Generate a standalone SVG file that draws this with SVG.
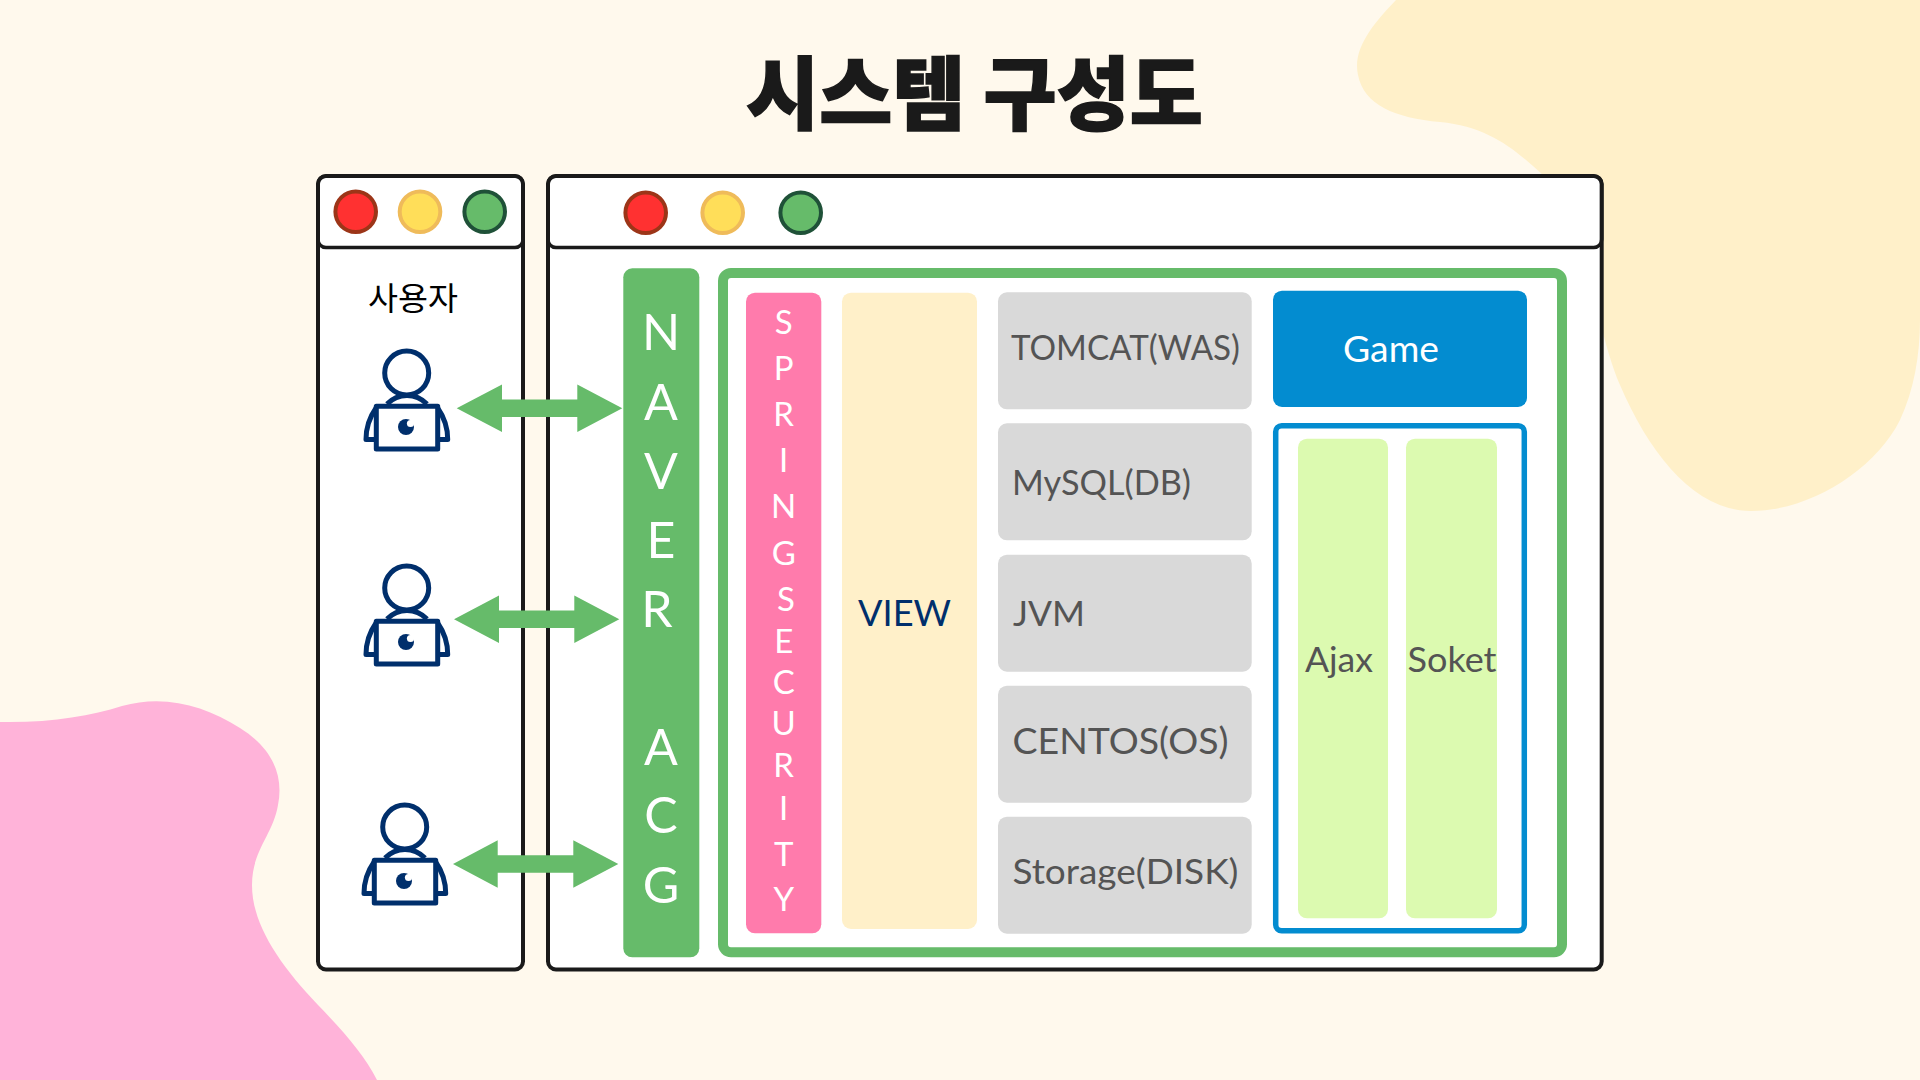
<svg xmlns="http://www.w3.org/2000/svg" xmlns:xlink="http://www.w3.org/1999/xlink" width="1920" height="1080" viewBox="0 0 1920 1080">
<style>
.win{fill:#fff;stroke:#1a1a1a;stroke-width:4}
.head{fill:none;stroke:#1a1a1a;stroke-width:3.5}
.r{fill:#ff3131;stroke:#9c3518;stroke-width:4}
.y{fill:#ffde59;stroke:#efbb5a;stroke-width:4}
.g{fill:#66bb6a;stroke:#1f5138;stroke-width:4}
.t{font-family:"Lato","Noto Sans",sans-serif}
.lg{font-size:34px;fill:#545454}
.nv{font-size:50px;fill:#fff;text-anchor:middle}
.sp{font-size:33px;fill:#fff;text-anchor:middle}
.box{fill:#d9d9d9}
.pl{fill:none;stroke:#002f6c;stroke-width:5;stroke-linejoin:round}
.arrow{fill:#66bb6a}
</style>
<defs>
<g id="person">
<circle class="pl" cx="406.7" cy="373" r="22"/>
<path class="pl" d="M387 404C393 398 399 395.500 407 395.500C415 395.500 421 398 427 404"/>
<path class="pl" d="M376 408C369 418 366 428 366 439.500L376 439.500"/>
<path class="pl" d="M437.700 408C444.700 418 447.700 428 447.700 439.500L437.700 439.500"/>
<rect x="376.300" y="406.300" width="61.400" height="42.700" fill="#fff" stroke="#002f6c" stroke-width="5" stroke-linejoin="round"/>
<circle cx="406" cy="427" r="8" fill="#002f6c"/>
<circle cx="410.500" cy="423.500" r="3.600" fill="#fff"/>
</g>
</defs>
<rect id="background" width="1920" height="1080" fill="#fff9ed"/>
<path id="blob-top" fill="#fff0c9" d="M1396 0C1375 22 1352 48 1358 75C1364 105 1395 118 1440 122C1490 127 1516 150 1546 178C1590 225 1592 320 1620 385C1650 455 1695 511 1751 511C1810 511 1875 470 1900 420C1914 390 1920 355 1920 320L1920 0Z"/>
<path id="blob-bottom" fill="#ffb3d9" d="M0 722C50 723 90 716 122 706C165 694 205 706 240 728C272 748 284 775 278 805C273 835 252 850 252 885C252 925 280 965 318 1005C345 1033 365 1056 377 1080L0 1080Z"/>
<text id="title" x="746" y="123" font-size="80" font-weight="900" fill="#1a1a1a" stroke="#1a1a1a" stroke-width="1.500" textLength="457" lengthAdjust="spacingAndGlyphs" style="font-family:'Noto Sans CJK KR',sans-serif">시스템 구성도</text>
<g id="window-left">
<rect class="win" x="318" y="176" width="205" height="793.500" rx="8"/>
<rect class="head" x="318" y="176" width="205" height="71.500" rx="8"/>
<circle class="r" cx="355.700" cy="211.700" r="20.300"/>
<circle class="y" cx="420" cy="211.700" r="20.300"/>
<circle class="g" cx="484.700" cy="211.700" r="20.300"/>
<text x="368" y="310" font-size="32" fill="#000" style="font-family:'Noto Sans CJK KR',sans-serif" textLength="90" lengthAdjust="spacingAndGlyphs">사용자</text>
</g>
<g id="window-right">
<rect class="win" x="548" y="176" width="1053.700" height="793.500" rx="8"/>
<rect class="head" x="548" y="176" width="1053.700" height="71.500" rx="8"/>
<circle class="r" cx="645.700" cy="212.700" r="20.300"/>
<circle class="y" cx="722.700" cy="212.700" r="20.300"/>
<circle class="g" cx="800.700" cy="212.700" r="20.300"/>
</g>
<g id="user-1"><use href="#person" xlink:href="#person"/></g>
<g id="user-2"><use href="#person" xlink:href="#person" y="215"/></g>
<g id="user-3"><use href="#person" xlink:href="#person" x="-2" y="454"/></g>
<g id="naver">
<rect x="623.300" y="268.300" width="76" height="689" rx="9" fill="#66bb6a"/>
<text class="t nv" x="661" y="350">N</text>
<text class="t nv" x="661" y="420">A</text>
<text class="t nv" x="661" y="489">V</text>
<text class="t nv" x="661" y="558">E</text>
<text class="t nv" x="657" y="627">R</text>
<text class="t nv" x="661" y="765">A</text>
<text class="t nv" x="661" y="833">C</text>
<text class="t nv" x="661" y="903">G</text>
</g>
<rect id="acg-frame" x="723" y="273" width="839" height="679.300" rx="8" fill="none" stroke="#66bb6a" stroke-width="10"/>
<g id="spring-security">
<rect x="746" y="292.700" width="75.300" height="640.600" rx="9" fill="#ff7bac"/>
<text class="t sp" x="783.700" y="334">S</text>
<text class="t sp" x="783.700" y="380">P</text>
<text class="t sp" x="783.700" y="426">R</text>
<text class="t sp" x="783.700" y="472">I</text>
<text class="t sp" x="783.700" y="518">N</text>
<text class="t sp" x="783.700" y="565">G</text>
<text class="t sp" x="786" y="611">S</text>
<text class="t sp" x="783.700" y="653">E</text>
<text class="t sp" x="783.700" y="694">C</text>
<text class="t sp" x="783.700" y="735">U</text>
<text class="t sp" x="783.700" y="777">R</text>
<text class="t sp" x="783.700" y="820">I</text>
<text class="t sp" x="783.700" y="866">T</text>
<text class="t sp" x="783.700" y="911">Y</text>
</g>
<g id="view">
<rect x="842" y="292.700" width="135" height="636.300" rx="9" fill="#fff0c9"/>
<text class="t" x="858" y="626" font-size="37" fill="#002f6c" textLength="93" lengthAdjust="spacingAndGlyphs">VIEW</text>
</g>
<g id="tomcat"><rect class="box" x="998" y="292.300" width="253.700" height="117" rx="9"/><text class="t lg" x="1011" y="360" textLength="229" lengthAdjust="spacingAndGlyphs">TOMCAT(WAS)</text></g>
<g id="mysql"><rect class="box" x="998" y="423.300" width="253.700" height="117" rx="9"/><text class="t lg" x="1012" y="495" textLength="179" lengthAdjust="spacingAndGlyphs">MySQL(DB)</text></g>
<g id="jvm"><rect class="box" x="998" y="554.700" width="253.700" height="117" rx="9"/><text class="t lg" x="1013" y="626" textLength="72" lengthAdjust="spacingAndGlyphs">JVM</text></g>
<g id="centos"><rect class="box" x="998" y="685.700" width="253.700" height="117" rx="9"/><text class="t" x="1012.500" y="754" font-size="37" fill="#545454" textLength="216" lengthAdjust="spacingAndGlyphs">CENTOS(OS)</text></g>
<g id="storage"><rect class="box" x="998" y="816.700" width="253.700" height="117" rx="9"/><text class="t lg" x="1012.500" y="884" textLength="226" lengthAdjust="spacingAndGlyphs">Storage(DISK)</text></g>
<g id="game"><rect x="1273" y="290.700" width="254" height="116.300" rx="9" fill="#038cd0"/><text class="t" x="1343" y="362" font-size="36" fill="#fff" textLength="96" lengthAdjust="spacingAndGlyphs">Game</text></g>
<rect id="game-frame" x="1275.700" y="425.700" width="248.600" height="505" rx="6" fill="#fff" stroke="#038cd0" stroke-width="5.500"/>
<g id="ajax"><rect x="1298" y="438.700" width="90" height="479.600" rx="9" fill="#dcfab0"/><text class="t lg" x="1305" y="672" textLength="68" lengthAdjust="spacingAndGlyphs">Ajax</text></g>
<g id="soket"><rect x="1406" y="438.700" width="91" height="479.600" rx="9" fill="#dcfab0"/><text class="t lg" x="1407.500" y="672" textLength="89" lengthAdjust="spacingAndGlyphs">Soket</text></g>
<g id="connectors">
<polygon class="arrow" points="456.700,408.300 502,384.600 502,399.600 577.300,399.600 577.300,384.600 622.300,408.300 577.300,432 577.300,417 502,417 502,432"/>
<polygon class="arrow" points="454,619.300 499,595.600 499,610.600 574.300,610.600 574.300,595.600 619.300,619.300 574.300,643 574.300,628 499,628 499,643"/>
<polygon class="arrow" points="453,864 497.700,840.300 497.700,855.300 573.300,855.300 573.300,840.300 618.300,864 573.300,887.700 573.300,872.700 497.700,872.700 497.700,887.700"/>
</g>
</svg>
